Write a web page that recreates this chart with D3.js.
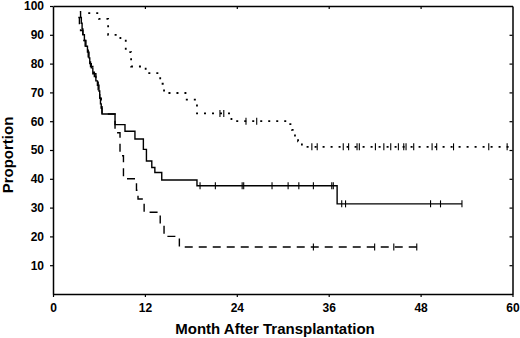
<!DOCTYPE html>
<html>
<head>
<meta charset="utf-8">
<script src="https://cdn.jsdelivr.net/npm/d3@7"></script>
<style>
  body { margin: 0; background: #fff; }
  svg { display: block; font-family: "Liberation Sans", Arial, sans-serif; }
</style>
</head>
<body>
<svg id="chart" width="520" height="338"></svg>
<script>
// Kaplan-Meier style curves, [month, proportion] at each step
const solidSteps = [[3.5,98],[3.6,96],[3.7,94],[3.8,92],[3.9,90],[4.1,88],[4.3,86],[4.5,84],[4.7,82],[4.8,80],
    [5.0,78.5],[5.2,77],[5.4,75.5],[5.6,74],[5.8,72.5],[6.0,70.5],[6.1,68],[6.2,66],[6.3,64.5],[6.4,62.5],
    [8.1,58.8],[9.4,56.5],[10.7,53.8],[11.8,50.2],[12.2,46.2],[12.9,43.9],[13.3,42.2],[14.2,39.6],[18.8,37.6],[37.1,31.3]];
const solidEnd = 53.4;
const solidCensored = [19.2, 21.2, 24.7, 24.9, 28.6, 30.7, 32.1, 34.0, 36.4, 36.6, 37.7, 38.2, 49.3, 50.6, 53.4];

const dashedSteps = [[3.3,96],[3.45,93],[3.6,91.5],[3.9,88],[4.2,85],[4.6,82],[4.9,79],[5.2,76.5],[5.6,74],[5.9,71],
    [6.1,68],[6.3,65],[6.4,62.5],[8.1,56],[8.75,48],[9.2,40],[10.9,36],[11.1,33],[11.9,28.4],[14.0,24],[14.5,20],[16.5,16.3]];
const dashedEnd = 47.5;
const dashedCensored = [34.0, 42.0, 44.5, 47.5];

const dottedSteps = [[4.6,97.5],[6.0,95.5],[7.2,90],[8.8,88.5],[9.5,84],[10.2,79],[12.1,76.7],[14.0,73],[14.5,69.8],
    [17.3,67.5],[18.8,62.7],[23.3,60],[30.8,59],[31.2,57],[31.6,55],[32.0,53],[32.5,51.1]];
const dottedEnd = 60;
const dottedCensored = [21.8, 22.3, 25.2, 26.6, 33.8, 34.5, 37.9, 38.6, 39.7, 40.0, 42.1, 43.2, 44.1, 45.1,
    45.8, 46.1, 47.1, 49.5, 50.1, 52.3, 56.9, 59.3];

const xTicks = [0, 12, 24, 36, 48, 60];
const yTicks = [10, 20, 30, 40, 50, 60, 70, 80, 90, 100];

const svg = d3.select('#chart');
const x = d3.scaleLinear().domain([0, 60]).range([53, 512.5]);
const y = d3.scaleLinear().domain([0, 100]).range([294, 6]);

// frame + axes
svg.append('g')
    .attr('transform', `translate(0,${y(0)})`)
    .call(d3.axisBottom(x).tickValues(xTicks).tickSize(3).tickSizeOuter(0).tickPadding(6));
svg.append('g')
    .attr('transform', `translate(${x(0)},0)`)
    .call(d3.axisLeft(y).tickValues(yTicks).tickSize(3).tickSizeOuter(0).tickPadding(6));
svg.append('g')
    .attr('transform', `translate(0,${y(100)})`)
    .call(d3.axisTop(x).tickValues(xTicks.slice(1, -1)).tickSize(-3).tickSizeOuter(0).tickFormat(''));
svg.append('g')
    .attr('transform', `translate(${x(60)},0)`)
    .call(d3.axisRight(y).tickValues(yTicks.slice(0, -1)).tickSize(-3).tickSizeOuter(0).tickFormat(''));

svg.selectAll('.domain').attr('stroke', '#000').attr('stroke-width', 1.5);
svg.selectAll('.tick line').attr('stroke', '#000').attr('stroke-width', 1.2);
svg.selectAll('.tick text')
    .attr('fill', '#000')
    .style('font-size', '12px')
    .style('font-weight', 'bold')
    .style('font-family', '"Liberation Sans", Arial, sans-serif');

// curves
const stepLine = d3.line()
    .x(d => x(d[0]))
    .y(d => y(d[1]))
    .curve(d3.curveStepAfter);

function valueAt(steps, t) {
    let v = steps[0][1];
    steps.forEach(s => { if (s[0] <= t) v = s[1]; });
    return v;
}

function drawCurve(steps, end, censored, dash, width) {
    const pts = steps.concat([[end, steps[steps.length - 1][1]]]);
    svg.append('path')
        .datum(pts)
        .attr('fill', 'none')
        .attr('stroke', '#000')
        .attr('stroke-width', width)
        .attr('stroke-dasharray', dash)
        .attr('d', stepLine);

    svg.append('g')
        .selectAll('line')
        .data(censored)
        .join('line')
        .attr('x1', d => x(d))
        .attr('x2', d => x(d))
        .attr('y1', d => y(valueAt(steps, d)) - 3.5)
        .attr('y2', d => y(valueAt(steps, d)) + 3.5)
        .attr('stroke', '#000')
        .attr('stroke-width', 1.1);
}

drawCurve(solidSteps, solidEnd, solidCensored, null, 1.4);
drawCurve(dashedSteps, dashedEnd, dashedCensored, '8,6', 1.4);
drawCurve(dottedSteps, dottedEnd, dottedCensored, '2,6', 1.8);

// axis titles
svg.append('text')
    .attr('x', 275)
    .attr('y', 334)
    .attr('text-anchor', 'middle')
    .style('font-size', '15px')
    .style('font-weight', 'bold')
    .text('Month After Transplantation');

svg.append('text')
    .attr('transform', 'translate(13,155) rotate(-90)')
    .attr('text-anchor', 'middle')
    .style('font-size', '15px')
    .style('font-weight', 'bold')
    .text('Proportion');
</script>
</body>
</html>
